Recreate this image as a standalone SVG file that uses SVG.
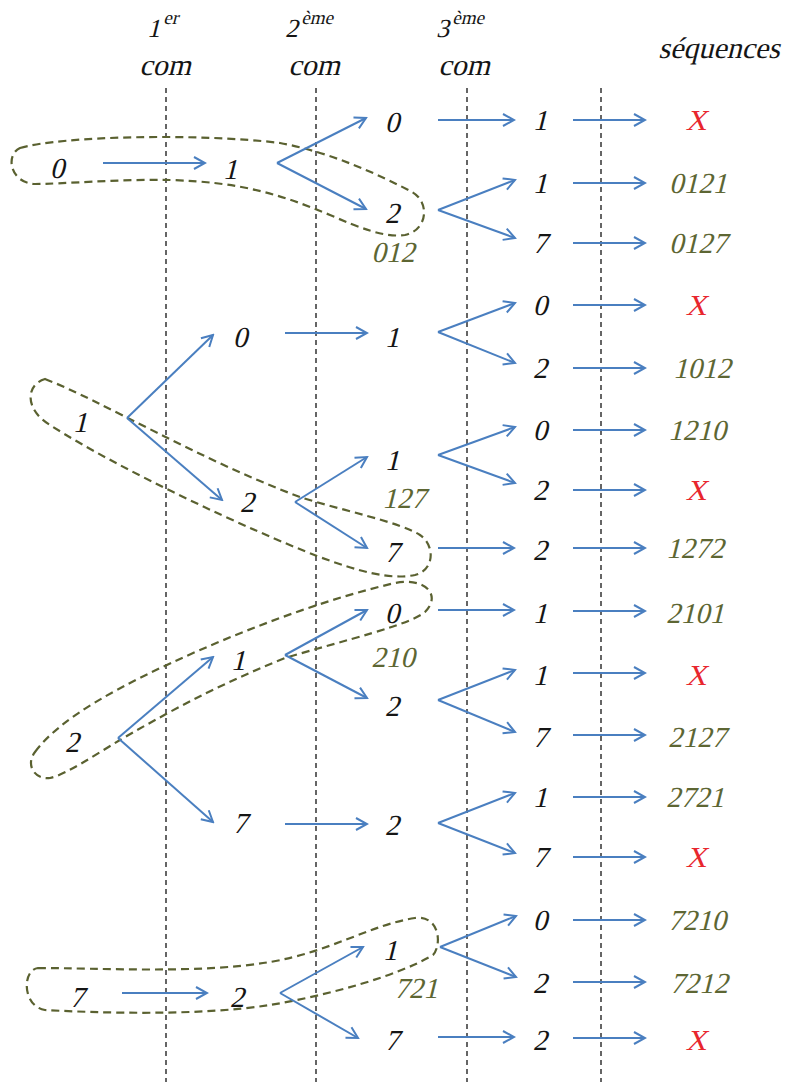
<svg xmlns="http://www.w3.org/2000/svg" width="787" height="1082" viewBox="0 0 787 1082">
<style>
text{font-family:"Liberation Serif","DejaVu Serif","Noto Serif",serif;font-style:normal;}
.t{font-size:29px;fill:#151515;text-anchor:middle;}
.h{font-size:30px;fill:#151515;text-anchor:middle;}
.hd{font-size:26px;fill:#151515;}
.sup{font-size:19px;}
.q{font-size:29px;fill:#5d6633;text-anchor:middle;}
.x{font-size:29px;fill:#e8262d;text-anchor:middle;}
.v{stroke:#333;stroke-width:1.5;stroke-dasharray:5 4;fill:none;}
.a{stroke:#4a7fc0;stroke-width:2;fill:none;marker-end:url(#ah);}
.loop{stroke:#5a6130;stroke-width:2.2;stroke-dasharray:8 5;fill:none;}
</style>
<defs>
<marker id="ah" markerUnits="userSpaceOnUse" viewBox="-2 -2 15 16" refX="11" refY="6" markerWidth="15" markerHeight="16" orient="auto">
<path d="M0,0 L11,6 L0,12" fill="none" stroke="#4a7fc0" stroke-width="2"/>
</marker>
</defs>
<rect width="787" height="1082" fill="#fff"/>

<g id="columns">
<line class="v" x1="166" y1="88" x2="166" y2="1082"/>
<line class="v" x1="316" y1="88" x2="316" y2="1082"/>
<line class="v" x1="467" y1="88" x2="467" y2="1082"/>
<line class="v" x1="601" y1="88" x2="601" y2="1082"/>
</g>

<g id="loops">
<path class="loop" d="M 20,148 C 60,136 200,133 280,143 C 330,152 380,175 412,192 C 430,202 428,230 405,235 C 385,238 360,228 330,215 C 280,194 240,182 170,180 C 120,179 60,184 35,184 C 10,183 5,155 20,148 Z"/>
<path class="loop" d="M 45,379 C 100,400 200,460 300,497 C 340,510 400,522 420,535 C 435,545 435,570 415,575 C 390,580 360,572 317,556 C 250,530 120,470 50,425 C 25,410 25,385 45,379 Z"/>
<path class="loop" d="M 35,752 C 60,718 120,685 200,650 C 260,624 330,598 395,583 C 425,577 442,595 425,612 C 410,625 345,640 285,658 C 230,680 180,705 120,740 C 95,755 65,775 50,778 C 35,780 25,765 35,752 Z"/>
<path class="loop" d="M 38,968 C 100,968 200,974 270,962 C 330,952 370,925 415,918 C 440,915 442,945 433,955 C 400,975 330,995 270,1005 C 200,1016 100,1013 45,1010 C 22,1006 22,970 38,968 Z"/>
</g>

<g id="connectors">
<path class="a" d="M103,163 L205,163"/>
<path class="a" d="M122,993 L207,993"/>
<path class="a" d="M285,333 L367,333"/>
<path class="a" d="M285,824 L367,824"/>
<path class="a" d="M438,120 L514,120"/>
<path class="a" d="M438,548 L514,548"/>
<path class="a" d="M438,610 L514,610"/>
<path class="a" d="M438,1037 L514,1037"/>
<path class="a" d="M573,120 L645,120"/>
<path class="a" d="M573,183 L645,183"/>
<path class="a" d="M573,243 L645,243"/>
<path class="a" d="M573,305 L645,305"/>
<path class="a" d="M573,368 L645,368"/>
<path class="a" d="M573,430 L645,430"/>
<path class="a" d="M573,490 L645,490"/>
<path class="a" d="M573,548 L645,548"/>
<path class="a" d="M573,611 L645,611"/>
<path class="a" d="M573,673 L645,673"/>
<path class="a" d="M573,735 L645,735"/>
<path class="a" d="M573,797 L645,797"/>
<path class="a" d="M573,857 L645,857"/>
<path class="a" d="M573,920 L645,920"/>
<path class="a" d="M573,982 L645,982"/>
<path class="a" d="M573,1038 L645,1038"/>
<path class="a" d="M277,163 L366,118"/><path class="a" d="M277,163 L366,209"/>
<path class="a" d="M438,210 L515,180"/><path class="a" d="M438,210 L515,238"/>
<path class="a" d="M438,332 L515,303"/><path class="a" d="M438,332 L515,363"/>
<path class="a" d="M127,418 L213,335"/><path class="a" d="M127,418 L222,500"/>
<path class="a" d="M438,455 L515,427"/><path class="a" d="M438,455 L515,483"/>
<path class="a" d="M295,502 L367,457"/><path class="a" d="M295,502 L367,548"/>
<path class="a" d="M285,655 L367,610"/><path class="a" d="M285,655 L367,698"/>
<path class="a" d="M438,700 L515,670"/><path class="a" d="M438,700 L515,732"/>
<path class="a" d="M118,738 L213,657"/><path class="a" d="M118,738 L213,822"/>
<path class="a" d="M438,823 L515,793"/><path class="a" d="M438,823 L515,853"/>
<path class="a" d="M440,947 L516,916"/><path class="a" d="M440,947 L516,977"/>
<path class="a" d="M280,993 L363,947"/><path class="a" d="M280,993 L358,1038"/>
</g>

<g id="headers">
<text class="hd" transform="translate(147,37) skewX(-14)">1<tspan class="sup" dy="-13">er</tspan></text>
<text class="h" transform="translate(165,75) skewX(-14)">com</text>
<text class="hd" transform="translate(285,37) skewX(-14)">2<tspan class="sup" dy="-13">ème</tspan></text>
<text class="h" transform="translate(314,75) skewX(-14)">com</text>
<text class="hd" transform="translate(436,37) skewX(-14)">3<tspan class="sup" dy="-13">ème</tspan></text>
<text class="h" transform="translate(464,75) skewX(-14)">com</text>
<text class="h" transform="translate(719,58) skewX(-14)">séquences</text>
</g>

<g id="c0-0"><text class="t" transform="translate(57,178) skewX(-14)">0</text></g>
<g id="c0-1"><text class="t" transform="translate(80,432) skewX(-14)">1</text></g>
<g id="c0-2"><text class="t" transform="translate(72,752) skewX(-14)">2</text></g>
<g id="c0-7"><text class="t" transform="translate(77,1007) skewX(-14)">7</text></g>

<g id="c1-01"><text class="t" transform="translate(230,179) skewX(-14)">1</text></g>
<g id="c1-10"><text class="t" transform="translate(240,347) skewX(-14)">0</text></g>
<g id="c1-12"><text class="t" transform="translate(247,512) skewX(-14)">2</text></g>
<g id="c1-21"><text class="t" transform="translate(238,670) skewX(-14)">1</text></g>
<g id="c1-27"><text class="t" transform="translate(240,833) skewX(-14)">7</text></g>
<g id="c1-72"><text class="t" transform="translate(237,1007) skewX(-14)">2</text></g>

<g id="c2-010"><text class="t" transform="translate(392,132) skewX(-14)">0</text></g>
<g id="c2-012"><text class="t" transform="translate(392,223) skewX(-14)">2</text></g>
<g id="c2-101"><text class="t" transform="translate(392,347) skewX(-14)">1</text></g>
<g id="c2-121"><text class="t" transform="translate(392,470) skewX(-14)">1</text></g>
<g id="c2-127"><text class="t" transform="translate(392,562) skewX(-14)">7</text></g>
<g id="c2-210"><text class="t" transform="translate(392,623) skewX(-14)">0</text></g>
<g id="c2-212"><text class="t" transform="translate(392,716) skewX(-14)">2</text></g>
<g id="c2-272"><text class="t" transform="translate(392,835) skewX(-14)">2</text></g>
<g id="c2-721"><text class="t" transform="translate(390,960) skewX(-14)">1</text></g>
<g id="c2-727"><text class="t" transform="translate(392,1050) skewX(-14)">7</text></g>

<g id="c3-r1"><text class="t" transform="translate(540,130) skewX(-14)">1</text></g>
<g id="c3-r2"><text class="t" transform="translate(540,193) skewX(-14)">1</text></g>
<g id="c3-r3"><text class="t" transform="translate(540,253) skewX(-14)">7</text></g>
<g id="c3-r4"><text class="t" transform="translate(540,315) skewX(-14)">0</text></g>
<g id="c3-r5"><text class="t" transform="translate(540,378) skewX(-14)">2</text></g>
<g id="c3-r6"><text class="t" transform="translate(540,440) skewX(-14)">0</text></g>
<g id="c3-r7"><text class="t" transform="translate(540,500) skewX(-14)">2</text></g>
<g id="c3-r8"><text class="t" transform="translate(540,560) skewX(-14)">2</text></g>
<g id="c3-r9"><text class="t" transform="translate(540,623) skewX(-14)">1</text></g>
<g id="c3-r10"><text class="t" transform="translate(540,685) skewX(-14)">1</text></g>
<g id="c3-r11"><text class="t" transform="translate(540,747) skewX(-14)">7</text></g>
<g id="c3-r12"><text class="t" transform="translate(540,807) skewX(-14)">1</text></g>
<g id="c3-r13"><text class="t" transform="translate(540,867) skewX(-14)">7</text></g>
<g id="c3-r14"><text class="t" transform="translate(540,930) skewX(-14)">0</text></g>
<g id="c3-r15"><text class="t" transform="translate(540,993) skewX(-14)">2</text></g>
<g id="c3-r16"><text class="t" transform="translate(540,1050) skewX(-14)">2</text></g>

<g id="res-1"><text class="x" transform="translate(696,130) skewX(-14)">X</text></g>
<g id="res-2"><text class="q" transform="translate(698,193) skewX(-14)">0121</text></g>
<g id="res-3"><text class="q" transform="translate(698,253) skewX(-14)">0127</text></g>
<g id="res-4"><text class="x" transform="translate(696,315) skewX(-14)">X</text></g>
<g id="res-5"><text class="q" transform="translate(702,378) skewX(-14)">1012</text></g>
<g id="res-6"><text class="q" transform="translate(697,440) skewX(-14)">1210</text></g>
<g id="res-7"><text class="x" transform="translate(696,500) skewX(-14)">X</text></g>
<g id="res-8"><text class="q" transform="translate(695,558) skewX(-14)">1272</text></g>
<g id="res-9"><text class="q" transform="translate(695,623) skewX(-14)">2101</text></g>
<g id="res-10"><text class="x" transform="translate(696,685) skewX(-14)">X</text></g>
<g id="res-11"><text class="q" transform="translate(697,747) skewX(-14)">2127</text></g>
<g id="res-12"><text class="q" transform="translate(695,807) skewX(-14)">2721</text></g>
<g id="res-13"><text class="x" transform="translate(696,867) skewX(-14)">X</text></g>
<g id="res-14"><text class="q" transform="translate(697,930) skewX(-14)">7210</text></g>
<g id="res-15"><text class="q" transform="translate(699,993) skewX(-14)">7212</text></g>
<g id="res-16"><text class="x" transform="translate(696,1050) skewX(-14)">X</text></g>

<g id="labels">
<text class="q" transform="translate(393,262) skewX(-14)">012</text>
<text class="q" transform="translate(404,508) skewX(-14)">127</text>
<text class="q" transform="translate(393,667) skewX(-14)">210</text>
<text class="q" transform="translate(416,998) skewX(-14)">721</text>
</g>
</svg>
